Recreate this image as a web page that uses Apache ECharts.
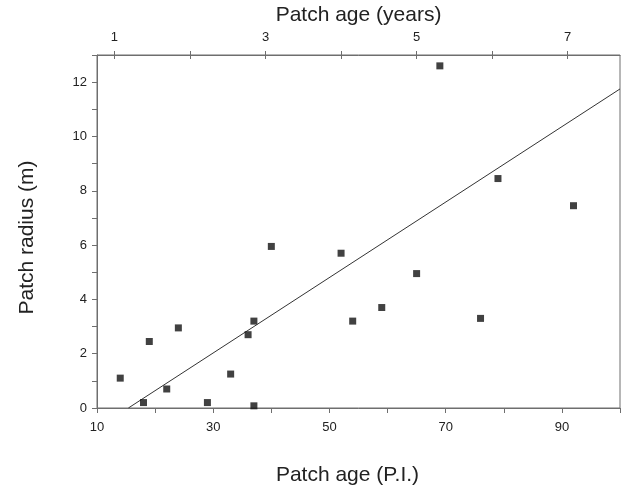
<!DOCTYPE html>
<html>
<head>
<meta charset="utf-8">
<script src="https://cdn.jsdelivr.net/npm/echarts@6/dist/echarts.min.js"></script>
<style>
  html, body { margin: 0; padding: 0; background: #fff; }
  #chart { width: 629px; height: 491px; }
</style>
</head>
<body>
<div id="chart"></div>
<script>
// Patch age in plastochron index (P.I.) and measured patch radius (m)
const patchAgePI = [14, 18, 19, 22, 24, 29, 33, 36, 37, 37, 40, 52, 54, 59, 65, 69, 76, 79, 92];
const patchRadius = [1.1, 0.2, 2.45, 0.7, 2.95, 0.2, 1.25, 2.7, 3.2, 0.08, 5.95, 5.7, 3.2, 3.7, 4.95, 12.6, 3.3, 8.45, 7.45];

// Fitted regression line end points (P.I., radius)
const fitX = [15.4, 100];
const fitY = [0, 11.75];

// Axis ticks and labels
const piTicks = [10, 20, 30, 40, 50, 60, 70, 80, 90, 100];
const piLabels = [10, 30, 50, 70, 90];
const yearTicks = [1, 2, 3, 4, 5, 6, 7];
const yearLabels = [1, 3, 5, 7];
const radiusTicks = [0, 1, 2, 3, 4, 5, 6, 7, 8, 9, 10, 11, 12, 13];
const radiusLabels = [0, 2, 4, 6, 8, 10, 12];

// One year corresponds to 13 plastochrons
const PI_PER_YEAR = 13;
const piMin = 10, piMax = 100;

const points = patchAgePI.map((x, i) => [x, patchRadius[i]]);
const fitLine = fitX.map((x, i) => [x, fitY[i]]);

const axisColor = '#6e6e6e';
const textColor = '#222';
const font = '"Liberation Sans", Arial, sans-serif';

const chart = echarts.init(document.getElementById('chart'), null, { renderer: 'canvas' });
chart.setOption({
  animation: false,
  backgroundColor: '#fff',
  grid: {
    left: 97, right: 9, top: 55, bottom: 78,
    show: true, borderColor: axisColor, borderWidth: 1, backgroundColor: 'transparent'
  },
  xAxis: [
    {
      type: 'value', position: 'bottom', min: piMin, max: piMax,
      name: 'Patch age (P.I.)', nameLocation: 'middle', nameGap: 57,
      nameTextStyle: { fontFamily: font, fontSize: 21, color: textColor, padding: [0, 22, 0, 0] },
      axisLine: { show: true, lineStyle: { color: axisColor, width: 1 } },
      axisTick: { show: true, inside: false, length: 5, customValues: piTicks, lineStyle: { color: axisColor } },
      axisLabel: { customValues: piLabels, fontFamily: font, fontSize: 13, color: textColor, margin: 13 },
      splitLine: { show: false }
    },
    {
      type: 'value', position: 'top', min: piMin / PI_PER_YEAR, max: piMax / PI_PER_YEAR,
      name: 'Patch age (years)', nameLocation: 'middle', nameGap: 25,
      nameTextStyle: { fontFamily: font, fontSize: 21, color: textColor },
      axisLine: { show: true, lineStyle: { color: axisColor, width: 1 } },
      axisTick: { show: true, inside: false, length: 4, customValues: yearTicks, lineStyle: { color: axisColor } },
      axisLabel: { customValues: yearLabels, fontFamily: font, fontSize: 13, color: textColor, margin: 11 },
      splitLine: { show: false }
    },
    {
      // inner half of the crossing ticks on the year axis
      type: 'value', position: 'top', min: piMin / PI_PER_YEAR, max: piMax / PI_PER_YEAR,
      axisLine: { show: false },
      axisTick: { show: true, inside: true, length: 4, customValues: yearTicks, lineStyle: { color: axisColor } },
      axisLabel: { show: false },
      splitLine: { show: false }
    }
  ],
  yAxis: [
    {
      type: 'value', min: 0, max: 13, interval: 1,
      name: 'Patch radius (m)', nameLocation: 'middle', nameGap: 59,
      nameTextStyle: { fontFamily: font, fontSize: 21, color: textColor, padding: [0, 12, 0, 0] },
      axisLine: { show: true, lineStyle: { color: axisColor, width: 1 } },
      axisTick: { show: true, inside: false, length: 5, customValues: radiusTicks, lineStyle: { color: axisColor } },
      axisLabel: { customValues: radiusLabels, fontFamily: font, fontSize: 13, color: textColor, margin: 10 },
      splitLine: { show: false }
    }
  ],
  series: [
    {
      type: 'line', xAxisIndex: 0, yAxisIndex: 0,
      data: fitLine, showSymbol: false, symbol: 'none',
      lineStyle: { color: '#333', width: 1 },
      silent: true, z: 2
    },
    {
      type: 'scatter', xAxisIndex: 0, yAxisIndex: 0,
      data: points, symbol: 'rect', symbolSize: 7,
      itemStyle: { color: '#111' }, z: 3
    }
  ]
});
</script>
</body>
</html>
